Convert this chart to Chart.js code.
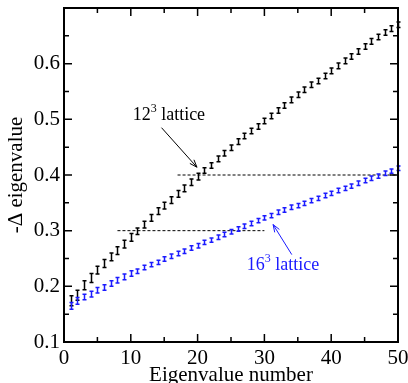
<!DOCTYPE html>
<html><head><meta charset="utf-8">
<script src="https://cdn.jsdelivr.net/npm/chart.js@4"></script>
<style>html,body{margin:0;padding:0;background:#fff}#wrap{width:408px;height:383px}</style>
</head><body><div id="wrap"><canvas id="c" width="408" height="383"></canvas></div>
<script>
const eigenNumbers = [1,2,3,4,5,6,7,8,9,10,11,12,13,14,15,16,17,18,19,20,21,22,23,24,25,26,27,28,29,30,31,32,33,34,35,36,37,38,39,40,41,42,43,44,45,46,47,48,49,50];
const lattice12 = [0.174,0.184,0.202,0.215,0.229,0.241,0.253,0.264,0.276,0.288,0.299,0.311,0.323,0.335,0.345,0.355,0.366,0.376,0.387,0.397,0.408,0.417,0.429,0.439,0.449,0.460,0.470,0.479,0.487,0.497,0.506,0.516,0.525,0.535,0.544,0.553,0.562,0.569,0.578,0.587,0.596,0.605,0.613,0.622,0.631,0.640,0.648,0.656,0.663,0.670];
const lattice12Err = [0.009,0.009,0.008,0.008,0.007,0.007,0.007,0.007,0.007,0.007,0.006,0.006,0.006,0.006,0.006,0.006,0.006,0.006,0.006,0.006,0.005,0.005,0.005,0.005,0.005,0.005,0.005,0.005,0.005,0.005,0.005,0.005,0.005,0.005,0.005,0.005,0.005,0.005,0.005,0.005,0.005,0.005,0.005,0.005,0.005,0.005,0.005,0.005,0.005,0.005];
const lattice16 = [0.165,0.174,0.181,0.186,0.193,0.198,0.205,0.211,0.217,0.223,0.227,0.234,0.239,0.243,0.249,0.254,0.259,0.263,0.269,0.273,0.279,0.283,0.288,0.293,0.298,0.303,0.308,0.313,0.318,0.323,0.327,0.333,0.337,0.342,0.345,0.349,0.354,0.358,0.363,0.367,0.372,0.376,0.380,0.385,0.390,0.394,0.398,0.403,0.407,0.412];
const lattice16Err = [0.006,0.006,0.005,0.005,0.005,0.005,0.005,0.005,0.005,0.005,0.004,0.004,0.004,0.004,0.004,0.004,0.004,0.004,0.004,0.004,0.004,0.004,0.004,0.004,0.004,0.004,0.004,0.004,0.004,0.004,0.004,0.004,0.004,0.004,0.004,0.004,0.004,0.004,0.004,0.004,0.004,0.004,0.004,0.004,0.004,0.004,0.004,0.004,0.004,0.004];
const refLine04 = [{x:17,y:0.4},{x:50,y:0.4}];
const refLine03 = [{x:8,y:0.3},{x:30,y:0.3}];
const xMajorTicks = [0,10,20,30,40,50];
const xMinorTicks = [5,15,25,35,45];
const yMajorTicks = [0.1,0.2,0.3,0.4,0.5,0.6];
const yMinorTicks = [0.15,0.25,0.35,0.45,0.55,0.65];
const arrow12 = {from:{x:14.6,y:0.485}, to:{x:19.9,y:0.414}};
const arrow16 = {from:{x:34.1,y:0.257}, to:{x:31.3,y:0.311}};
const label12 = {x:15.7, y:0.507, base:'12', sup:'3', rest:' lattice'};
const label16 = {x:32.8, y:0.237, base:'16', sup:'3', rest:' lattice'};

const BLUE = '#1a1aff';
const FONT = "'Liberation Serif', 'DejaVu Serif', serif";

const toPts = (xs, ys) => xs.map((x,i)=>({x:x, y:ys[i]}));

const overlay = {
  id:'overlay',
  afterDatasetsDraw(chart){
    const ctx = chart.ctx, xs = chart.scales.x, ys = chart.scales.y, a = chart.chartArea;
    ctx.save();
    chart.data.datasets.forEach(ds=>{
      if(!ds.errors) return;
      ctx.strokeStyle = ds.errColor; ctx.lineWidth = 1.5;
      ds.data.forEach((p,i)=>{
        const px = Math.round(xs.getPixelForValue(p.x))+0.5;
        const y1 = ys.getPixelForValue(p.y - ds.errors[i]);
        const y2 = ys.getPixelForValue(p.y + ds.errors[i]);
        ctx.beginPath();
        ctx.moveTo(px,y1); ctx.lineTo(px,y2);
        ctx.moveTo(px-2,y1); ctx.lineTo(px+2,y1);
        ctx.moveTo(px-2,y2); ctx.lineTo(px+2,y2);
        ctx.stroke();
      });
    });
    const drawArrow = (ar, color) => {
      const x1 = xs.getPixelForValue(ar.from.x), y1 = ys.getPixelForValue(ar.from.y);
      const x2 = xs.getPixelForValue(ar.to.x), y2 = ys.getPixelForValue(ar.to.y);
      ctx.strokeStyle = color; ctx.lineWidth = 1;
      ctx.beginPath(); ctx.moveTo(x1,y1); ctx.lineTo(x2,y2); ctx.stroke();
      const ang = Math.atan2(y2-y1, x2-x1), L = 8, w = 0.35;
      ctx.beginPath();
      ctx.moveTo(x2 - L*Math.cos(ang-w), y2 - L*Math.sin(ang-w));
      ctx.lineTo(x2,y2);
      ctx.lineTo(x2 - L*Math.cos(ang+w), y2 - L*Math.sin(ang+w));
      ctx.stroke();
    };
    drawArrow(arrow12, '#000');
    drawArrow(arrow16, BLUE);
    const drawLabel = (lb, color) => {
      ctx.fillStyle = color; ctx.textBaseline = 'middle'; ctx.textAlign = 'left';
      ctx.font = '18px ' + FONT;
      const wb = ctx.measureText(lb.base).width, wr = ctx.measureText(lb.rest).width;
      ctx.font = '12px ' + FONT;
      const ws = ctx.measureText(lb.sup).width;
      const tot = wb + ws + wr;
      let cx = xs.getPixelForValue(lb.x) - tot/2, cy = ys.getPixelForValue(lb.y);
      ctx.font = '18px ' + FONT; ctx.fillText(lb.base, cx, cy);
      ctx.font = '12px ' + FONT; ctx.fillText(lb.sup, cx+wb, cy-7);
      ctx.font = '18px ' + FONT; ctx.fillText(lb.rest, cx+wb+ws, cy);
    };
    drawLabel(label12, '#000');
    drawLabel(label16, BLUE);
    ctx.strokeStyle = '#000'; ctx.lineWidth = 2;
    ctx.strokeRect(a.left, a.top, a.right-a.left, a.bottom-a.top);
    ctx.lineWidth = 1.5;
    const tick = (vals, len) => {
      vals.forEach(v=>{
        const px = xs.getPixelForValue(v);
        ctx.beginPath();
        ctx.moveTo(px,a.bottom); ctx.lineTo(px,a.bottom-len);
        ctx.moveTo(px,a.top); ctx.lineTo(px,a.top+len);
        ctx.stroke();
      });
    };
    const tickY = (vals, len) => {
      vals.forEach(v=>{
        const py = ys.getPixelForValue(v);
        ctx.beginPath();
        ctx.moveTo(a.left,py); ctx.lineTo(a.left+len,py);
        ctx.moveTo(a.right,py); ctx.lineTo(a.right-len,py);
        ctx.stroke();
      });
    };
    tick(xMajorTicks, 8); tick(xMinorTicks, 5);
    tickY(yMajorTicks, 8); tickY(yMinorTicks, 5);
    ctx.restore();
  }
};

new Chart(document.getElementById('c'), {
  type:'scatter',
  data:{datasets:[
    {label:'12^3 lattice', data:toPts(eigenNumbers, lattice12), errors:lattice12Err, errColor:'#000', pointRadius:0, showLine:false},
    {label:'16^3 lattice', data:toPts(eigenNumbers, lattice16), errors:lattice16Err, errColor:BLUE, pointRadius:0, showLine:false},
    {label:'ref 0.4', data:refLine04, showLine:true, pointRadius:0, borderColor:'#000', borderWidth:1, borderDash:[3,2]},
    {label:'ref 0.3', data:refLine03, showLine:true, pointRadius:0, borderColor:'#000', borderWidth:1, borderDash:[3,2]}
  ]},
  options:{
    responsive:false, animation:false, devicePixelRatio:1,
    layout:{padding:{top:8,right:10,left:0,bottom:0}},
    plugins:{legend:{display:false}, tooltip:{enabled:false}},
    scales:{
      x:{type:'linear', min:0, max:50,
        afterBuildTicks(s){ s.ticks = xMajorTicks.map(v=>({value:v})); },
        afterFit(s){ s.height = 41; s.paddingLeft = 0; s.paddingRight = 0; },
        grid:{display:false, drawTicks:false}, border:{display:false},
        ticks:{padding:4, color:'#000', font:{family:FONT, size:21}, maxRotation:0, callback:v=>String(v)},
        title:{display:true, text:'Eigenvalue number', color:'#000', font:{family:FONT, size:21, lineHeight:1}, padding:{top:0,bottom:-3}}
      },
      y:{type:'linear', min:0.1, max:0.7,
        afterBuildTicks(s){ s.ticks = yMajorTicks.map(v=>({value:v})); },
        afterFit(s){ s.width = 64; s.paddingTop = 0; s.paddingBottom = 0; },
        grid:{display:false, drawTicks:false}, border:{display:false},
        ticks:{padding:4, color:'#000', font:{family:FONT, size:21}, callback:v=>v.toFixed(1)},
        title:{display:true, text:'-Δ eigenvalue', color:'#000', font:{family:FONT, size:21}, padding:{top:4,bottom:0}}
      }
    }
  },
  plugins:[overlay]
});
</script></body></html>
